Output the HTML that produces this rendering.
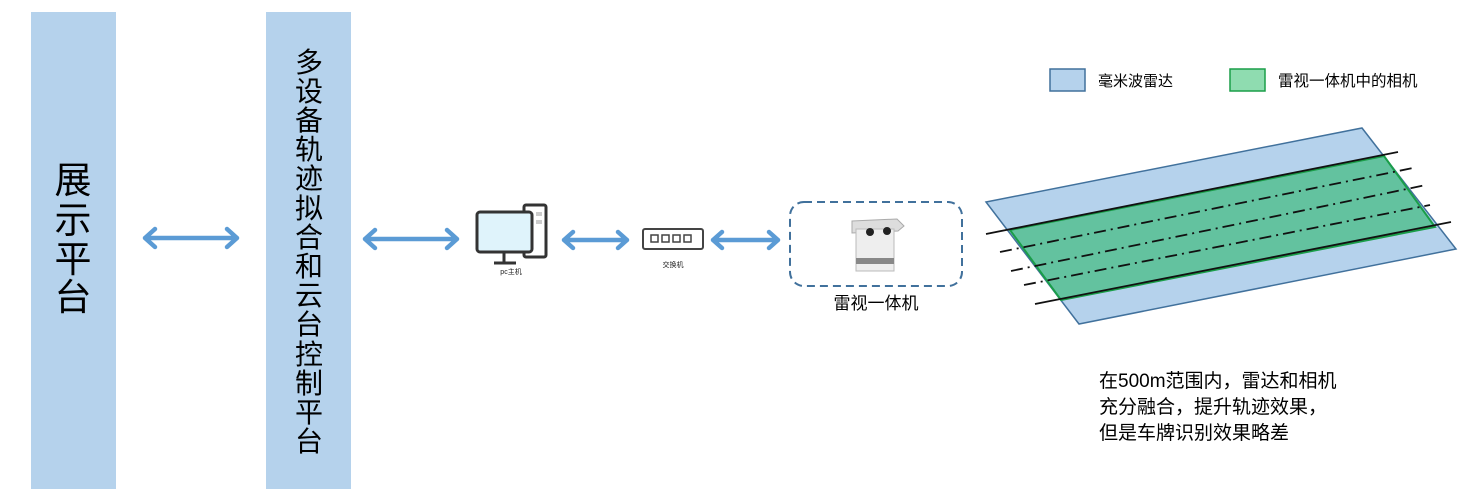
<!DOCTYPE html>
<html><head><meta charset="utf-8"><style>
html,body{margin:0;padding:0;background:#fff;}
svg{display:block;}
text{font-family:"Liberation Sans","Noto Sans CJK SC",sans-serif;}
</style></head><body>
<svg width="1468" height="501" viewBox="0 0 1468 501" xmlns="http://www.w3.org/2000/svg">
<rect x="31" y="12" width="85" height="477" fill="#b5d2ec"/>
<rect x="266" y="12" width="85" height="477" fill="#b5d2ec"/>
<g font-size="37" fill="#000" text-anchor="middle">
<text x="73" y="193">展</text><text x="73" y="233">示</text><text x="73" y="272">平</text><text x="73" y="310">台</text>
</g>
<g font-size="28" fill="#000" text-anchor="middle">
<text x="309" y="72">多</text><text x="309" y="101">设</text><text x="309" y="130">备</text><text x="309" y="159">轨</text><text x="309" y="188">迹</text><text x="309" y="218">拟</text><text x="309" y="247">合</text><text x="309" y="276">和</text><text x="309" y="305">云</text><text x="309" y="334">台</text><text x="309" y="364">控</text><text x="309" y="393">制</text><text x="309" y="422">平</text><text x="309" y="451">台</text>
</g>
<g stroke="#5b9bd5" stroke-width="4.5" fill="none" stroke-linecap="round" stroke-linejoin="round">
<path d="M145 238H237M155 229L145 238L155 247M227 229L237 238L227 247"/>
<path d="M365 239H457M375 230L365 239L375 248M447 230L457 239L447 248"/>
<path d="M564 240H627M573 232L564 240L573 248M618 232L627 240L618 248"/>
<path d="M713 240H778M722 232L713 240L722 248M769 232L778 240L769 248"/>
</g>
<g stroke="#333" stroke-width="3" fill="none">
<rect x="524" y="205" width="22" height="52" rx="2" fill="#fff"/>
<rect x="477" y="212" width="55" height="40" rx="3" fill="#dff3fb"/>
<path d="M504 252V262M494 263H516"/>
</g>
<rect x="536" y="212" width="6" height="4" fill="#ccc"/><rect x="536" y="220" width="6" height="4" fill="#ccc"/>
<text x="511" y="274" font-size="7" text-anchor="middle" fill="#222">pc主机</text>
<rect x="643" y="229" width="60" height="20" rx="2" fill="#fff" stroke="#444" stroke-width="2"/>
<g fill="none" stroke="#444" stroke-width="1.5">
<rect x="651" y="235" width="7" height="7"/><rect x="662" y="235" width="7" height="7"/><rect x="673" y="235" width="7" height="7"/><rect x="684" y="235" width="7" height="7"/>
</g>
<text x="673" y="267" font-size="7" text-anchor="middle" fill="#222">交换机</text>
<rect x="790" y="202" width="172" height="84" rx="14" fill="none" stroke="#41719c" stroke-width="2" stroke-dasharray="8,5"/>
<path d="M852 221L897 219L904 226L898 231L852 233Z" fill="#ddd" stroke="#aaa"/>
<rect x="856" y="229" width="38" height="42" fill="#eee" stroke="#bbb"/>
<circle cx="870" cy="232" r="4" fill="#222"/><circle cx="887" cy="231" r="4" fill="#222"/>
<rect x="856" y="258" width="38" height="6" fill="#888"/>
<text x="876" y="309" font-size="17" text-anchor="middle" fill="#000">雷视一体机</text>
<rect x="1050" y="69" width="35" height="22" fill="#b5d2ec" stroke="#41719c" stroke-width="1.5"/>
<text x="1098" y="86" font-size="15" fill="#000">毫米波雷达</text>
<rect x="1230" y="69" width="35" height="22" fill="#8fdcb0" stroke="#1a9e49" stroke-width="1.5"/>
<text x="1278" y="86" font-size="15.5" fill="#000">雷视一体机中的相机</text>
<polygon points="986,202 1362,128 1456,249 1079,324" fill="#b5d2ec" stroke="#41719c" stroke-width="1.5"/>
<polygon points="1010,230 1384,156 1435,227 1061,300" fill="#63c29f" stroke="#1a9e49" stroke-width="2"/>
<g stroke="#111" stroke-width="1.8">
<line x1="986" y1="234" x2="1398" y2="152"/>
<line x1="1035" y1="304" x2="1451" y2="222"/>
<g stroke-dasharray="12,5,2,5">
<line x1="1000" y1="252" x2="1413" y2="168"/>
<line x1="1011" y1="271" x2="1426" y2="185"/>
<line x1="1024" y1="285" x2="1430" y2="205"/>
</g>
</g>
<g font-size="19" fill="#000">
<text x="1099" y="387">在500m范围内，雷达和相机</text>
<text x="1099" y="413">充分融合，提升轨迹效果，</text>
<text x="1099" y="439">但是车牌识别效果略差</text>
</g>
</svg>
</body></html>
